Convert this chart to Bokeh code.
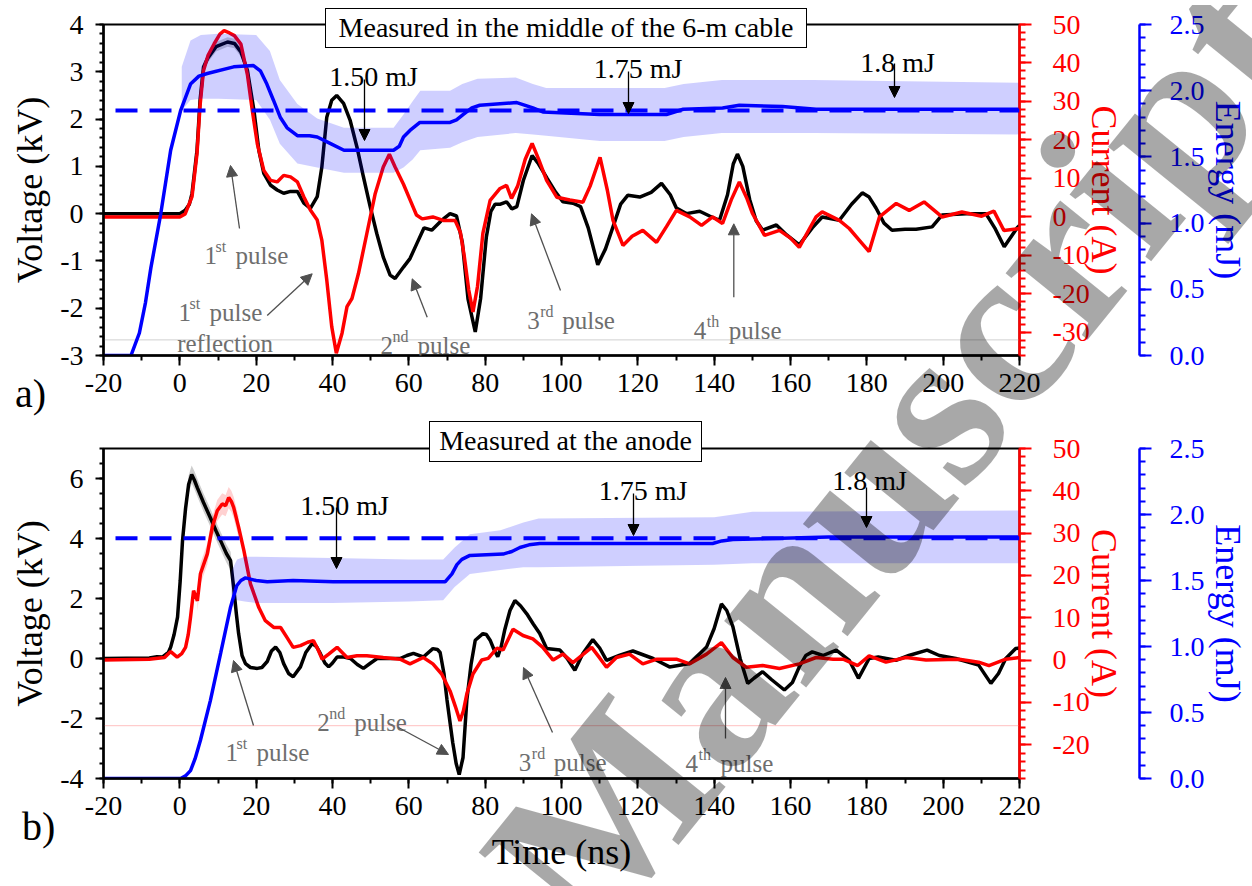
import numpy as np
from bokeh.plotting import figure
from bokeh.layouts import column
from bokeh.models import (Range1d, LinearAxis, SingleIntervalTicker, Label, Arrow,
                          NormalHead, Span, PrintfTickFormatter, Div)
from bokeh.embed import file_html
from bokeh.resources import INLINE

FONT = "Liberation Serif"
GRAY_TXT = "#6e6e6e"
GRAY_ARR = "#505050"

# ---- panel a) measured in the middle of the 6-m cable ----
t_v_a = [-20, -10, 0, 1.4, 2.5, 3.2, 4.5, 5.3, 6.2, 7.4, 9.5, 12.5, 14.3, 16.0, 17.7, 19.4, 20.7, 22.0, 23.8, 25.5,
         27.2, 29.0, 30.8, 32.5, 34.2, 36.0, 37.2, 38.5, 39.8, 41.1, 42.9, 44.6, 46.4, 48.1, 49.9, 51.6, 53.3, 55.1, 56.4, 58.6,
         60.3, 62.0, 64.0, 66.0, 68.5, 70.8, 72.5, 74.0, 75.5, 77.4, 78.8, 80.3, 81.5, 82.6, 84.0, 85.6, 87.0, 88.3, 90.0, 92.3,
         94.0, 96.2, 98.5, 100.4, 103.0, 105.0, 107.0, 109.5, 111.5, 113.4, 115.5, 117.4, 120.5, 123.5, 126.2, 128.5, 130.1, 132.7, 136.2, 138.8,
         141.4, 143.5, 145.0, 146.1, 147.5, 149.3, 151.0, 152.7, 156.3, 159.0, 162.3, 165.7, 168.3, 172.8, 176.0, 178.8, 180.6, 182.4, 184.5, 186.6,
         190.0, 192.9, 197.1, 199.7, 206.0, 211.2, 213.5, 216.0, 219.4, 220.0]
v_a = [0, 0, 0, 0.07, 0.2, 0.43, 1.34, 2.4, 3.1, 3.3, 3.53, 3.63, 3.6, 3.42, 3.03, 2.19, 1.34, 0.85, 0.6, 0.5,
       0.43, 0.47, 0.47, 0.22, 0.11, 0.36, 0.98, 2.04, 2.4, 2.5, 2.33, 1.98, 1.41, 0.78, 0.14, -0.42, -0.92, -1.3, -1.37, -1.13,
       -0.95, -0.65, -0.3, -0.35, -0.15, 0.0, -0.05, -0.6, -1.8, -2.5, -1.8, -0.5, 0.05, 0.2, 0.2, 0.25, 0.1, 0.15, 0.7, 1.23,
       1.05, 0.75, 0.45, 0.25, 0.22, 0.15, -0.3, -1.08, -0.75, -0.3, 0.2, 0.39, 0.35, 0.45, 0.64, 0.4, 0.12, 0.0, 0.05, -0.05,
       -0.14, 0.4, 1.05, 1.26, 1.0, 0.3, -0.15, -0.35, -0.24, -0.45, -0.66, -0.3, -0.07, -0.14, 0.2, 0.44, 0.35, 0.12, -0.2, -0.35,
       -0.33, -0.33, -0.28, -0.03, 0.0, 0.0, -0.3, -0.7, -0.3, -0.25]

t_i_a = [-20, 0, 1.4, 3.2, 4.5, 5.3, 6.2, 7.4, 9.0, 10.5, 11.6, 13.0, 14.3, 16.0, 17.7, 19.0, 20.3, 22.0, 23.8, 25.5,
         27.2, 29.0, 30.8, 32.5, 34.2, 36.0, 37.2, 38.5, 39.8, 41.0, 42.5, 43.8, 45.1, 46.8, 49.0, 51.2, 53.3, 54.9, 56.4, 58.6,
         60.3, 62.0, 63.5, 66.3, 69.0, 72.1, 73.5, 74.5, 75.7, 76.8, 78.0, 79.4, 81.3, 83.9, 85.6, 86.9, 88.5, 90.5, 92.3, 94.0,
         96.1, 98.8, 102.2, 105.6, 107.5, 110.1, 112.0, 113.5, 116.1, 118.5, 121.3, 124.9, 127.5, 130.1, 133.6, 136.7, 139.6, 142.2, 144.5, 146.6,
         148.5, 150.0, 153.2, 157.1, 160.0, 162.3, 165.0, 166.7, 168.3, 172.8, 175.4, 178.0, 180.6, 183.3, 187.7, 191.1, 195.0, 199.7, 204.9, 210.1,
         213.3, 215.9, 220.0]
i_a = [0, 0, 0.8, 5.3, 16.5, 29, 38, 42, 45, 47.5, 48.4, 47.8, 47.1, 44.9, 37, 27.6, 19, 12.1, 9.5, 9.1,
       10.8, 10.4, 9.1, 5.2, 1.8, -0.8, -6, -16.4, -28.5, -35.4, -30.2, -23.3, -21.2, -14.7, -4.3, 6.1, 13, 16.3, 13, 8.5,
       4.5, 0.5, -0.5, 0, -0.9, -0.9, -4, -10, -19, -24.7, -18, -4.3, 4.3, 7.4, 8.2, 4.8, 8, 15, 19.1, 15,
       9.5, 5.1, 4.4, 3.8, 8, 15.5, 7, -0.9, -7.4, -5, -3.5, -6.6, -2.5, 1.7, 0, -2.2, 0, -1.7, 4.5, 9.1,
       5, 1, -4.8, -3.5, -5.5, -7.9, -3, 0, 1.3, -0.9, -3, -6, -9, 0, 3.5, 1.7, 3.9, 0, 1.3, 0.2,
       1.5, -3.5, -3]

t_e_a = [-20, -12.8, -10.6, -9.0, -7.6, -5.0, -2.4, 0.2, 2.8, 5.0, 7.2, 14.1, 19.3, 21.1, 22.8, 24.5, 26.3, 28.1, 30.8, 34.0,
         36.0, 39.5, 43.0, 56.0, 57.5, 58.6, 60.3, 62.9, 70.8, 72.5, 74.2, 76.5, 78.6, 88.3, 92.5, 95.1, 110.0, 127.5, 131.9, 142.2,
         146.6, 157.9, 166.7, 220.0]
e_a = [0, 0, 0.17, 0.4, 0.66, 1.07, 1.55, 1.85, 2.05, 2.11, 2.13, 2.18, 2.19, 2.15, 2.05, 1.93, 1.8, 1.72, 1.66, 1.66,
       1.65, 1.60, 1.55, 1.55, 1.58, 1.65, 1.70, 1.76, 1.76, 1.78, 1.82, 1.87, 1.89, 1.91, 1.87, 1.84, 1.82, 1.82, 1.86, 1.87,
       1.89, 1.88, 1.86, 1.86]

t_eb_a = [0.5, 2.8, 5.5, 10, 20, 23.6, 26.2, 30.8, 36, 43, 56, 58.6, 61, 63, 70.8, 74, 78, 88, 92.5, 96, 110, 127, 132, 142, 166, 220]
e_hi_a = [2.18, 2.38, 2.42, 2.43, 2.42, 2.30, 2.08, 1.90, 1.79, 1.72, 1.72, 1.82, 1.92, 2.0, 2.0, 2.05, 2.09, 2.10, 2.05, 2.02,
          2.02, 2.02, 2.05, 2.08, 2.08, 2.06]
e_lo_a = [1.85, 1.93, 1.94, 1.94, 1.93, 1.78, 1.60, 1.45, 1.42, 1.38, 1.38, 1.42, 1.48, 1.55, 1.57, 1.61, 1.65, 1.68, 1.67, 1.66,
          1.62, 1.62, 1.65, 1.68, 1.68, 1.67]
e_ref_a = 1.85
guide_a = -2.67

# ---- panel b) measured at the anode ----
t_v_b = [-20, -8, -6, -4.5, -3, -2.4, -1.5, -0.6, 0.1, 0.7, 1.5, 2.3, 3.1, 3.8, 4.6, 6.2, 8.0, 9.5, 10.7, 12.2,
         13.3, 14.1, 14.8, 15.4, 16.3, 17.2, 18.5, 20.3, 21.5, 22.9, 24.0, 25.1, 26.2, 27.2, 28.5, 29.7, 31.6, 33.0, 34.7, 35.8,
         36.8, 38.0, 39.0, 40.0, 41.2, 43.0, 44.7, 46.5, 48.1, 50.0, 51.7, 57.7, 59.5, 61.2, 63.8, 66.3, 67.5, 68.2, 69.2, 70.0,
         71.5, 72.4, 73.2, 74.2, 75.2, 76.3, 77.4, 79.4, 80.3, 81.3, 82.3, 83.3, 84.2, 85.1, 86.5, 87.8, 89.3, 90.9, 92.6, 94.3,
         96.1, 99.6, 101.5, 103.5, 105.6, 108.2, 110.0, 111.8, 115.3, 118.7, 124.0, 128.3, 133.6, 138.0, 140.0, 141.9, 143.3, 144.9, 146.8, 148.8,
         150.5, 152.7, 155.0, 158.4, 160.5, 162.3, 164.0, 165.7, 168.5, 172.0, 175.4, 177.8, 180.6, 183.0, 187.6, 191.0, 195.8, 199.0, 203.3, 209.3,
         212.5, 214.5, 216.4, 219.0, 220.0]
v_b = [0, 0.02, 0.06, 0.05, 0.2, 0.38, 0.8, 1.38, 2.6, 3.92, 5.0, 5.8, 6.13, 5.95, 5.69, 5.2, 4.69, 4.25, 3.92, 3.5,
       3.26, 2.37, 1.5, 0.83, 0.1, -0.17, -0.3, -0.33, -0.3, -0.1, 0.25, 0.38, 0.2, -0.17, -0.5, -0.61, -0.28, 0.2, 0.5, 0.4,
       0.17, -0.15, -0.28, -0.15, 0.05, 0.05, 0.0, -0.2, -0.33, -0.15, 0.0, 0.0, 0.1, 0.17, 0.05, 0.33, 0.3, 0.2, -0.5, -1.38,
       -2.8, -3.5, -3.87, -3.3, -1.38, -0.2, 0.61, 0.83, 0.8, 0.61, 0.3, 0.06, 0.4, 0.94, 1.6, 1.93, 1.75, 1.49, 1.15, 0.83,
       0.33, 0.28, 0.0, -0.39, 0.17, 0.63, 0.35, -0.06, 0.11, 0.25, 0.0, -0.28, -0.17, 0.38, 1.0, 1.82, 1.6, 1.06, 0.0, -0.83,
       -0.65, -0.44, -0.7, -1.05, -0.8, -0.28, 0.1, 0.22, 0.1, 0.28, -0.06, -0.66, 0.0, 0.05, -0.06, 0.1, 0.28, 0.1, 0.0, -0.22,
       -0.83, -0.5, 0.0, 0.33, 0.35]

t_i_b = [-20, -8, -4, -2.4, -0.7, 0.5, 1.5, 2.2, 2.8, 3.6, 4.6, 5.4, 7.2, 8.5, 9.8, 11.1, 12.0, 12.8, 13.5, 14.1,
         15.4, 16.8, 18.5, 20.7, 22.4, 24.6, 26.4, 28.1, 29.7, 31.6, 33.5, 35.0, 36.2, 37.3, 39.0, 41.2, 43.8, 46.4, 49.0, 53.3,
         57.7, 60.3, 63.8, 66.3, 68.6, 70.8, 72.2, 73.4, 74.3, 75.2, 76.8, 79.1, 80.8, 83.1, 84.7, 87.3, 89.9, 92.5, 95.1, 97.8,
         100.4, 103.0, 105.5, 107.9, 110.0, 111.8, 114.4, 117.8, 121.3, 125.0, 130.1, 133.6, 138.0, 141.9, 144.9, 148.4, 152.7, 157.1, 162.3, 166.7,
         171.2, 173.8, 177.6, 180.6, 185.0, 190.3, 195.5, 204.2, 209.3, 212.0, 216.4, 220.0]
i_b = [0, 0.2, 0.6, 2.0, 0.7, 1.5, 3.0, 6.0, 10.1, 16.4, 14.0, 20.4, 25.1, 31.4, 35.3, 36.9, 36.5, 38.4, 37.5, 36.1,
       31.4, 25.8, 18.0, 12.4, 9.3, 7.7, 7.7, 5.3, 3.0, 3.4, 4.2, 4.6, 2.5, 0.2, 1.4, 3.0, 0.6, 1.0, 1.0, 0.6,
       0.2, -0.9, 0.6, -0.9, -3.3, -7.3, -11.0, -14.4, -12.0, -8.0, -3.3, 0.0, 0.4, 2.8, 2.4, 7.3, 5.8, 5.0, 3.0, 0.0,
       1.4, -0.6, 1.2, 3.0, 0.5, -1.7, 0.6, 1.4, -0.9, 0.2, 0.2, -0.9, 1.4, 4.1, 0.6, -1.7, -1.3, -2.0, -0.9, 0.6,
       0.2, 0.2, -1.3, 1.0, -0.5, 0.6, 0.0, 0.2, -0.5, -1.3, 0.2, 0.6]

t_e_b = [-20, 0.2, 1.5, 2.8, 4.0, 5.4, 8.0, 10.7, 13.3, 14.9, 16.0, 17.2, 20.0, 22.9, 29.7, 40.2, 60.0, 69.5, 71.3, 72.6,
         73.9, 76.0, 84.7, 87.0, 89.1, 91.5, 94.3, 118.7, 139.6, 142.0, 144.9, 157.9, 170.0, 220.0]
e_b = [0, 0, 0.02, 0.06, 0.15, 0.29, 0.59, 0.95, 1.30, 1.46, 1.50, 1.52, 1.50, 1.49, 1.50, 1.49, 1.49, 1.49, 1.55, 1.62,
       1.66, 1.69, 1.70, 1.72, 1.75, 1.77, 1.78, 1.78, 1.78, 1.80, 1.81, 1.82, 1.83, 1.83]

t_eb_b = [13.5, 15, 17, 20, 40, 60, 69, 72, 76, 84, 90, 94, 140, 150, 220]
e_hi_b = [1.57, 1.66, 1.68, 1.68, 1.67, 1.66, 1.66, 1.75, 1.85, 1.88, 1.94, 1.97, 1.98, 2.02, 2.03]
e_lo_b = [1.38, 1.35, 1.34, 1.33, 1.33, 1.34, 1.35, 1.45, 1.55, 1.58, 1.60, 1.60, 1.62, 1.63, 1.63]
e_ref_b = 1.82
guide_b = -2.24

W = 1252
L_B, R_B = 103, 233


def style_axis(ax, color, interval, minor, fmt, tick_out, standoff):
    ax.ticker = SingleIntervalTicker(interval=interval, num_minor_ticks=minor)
    ax.formatter = PrintfTickFormatter(format=fmt)
    ax.axis_line_color = color
    ax.axis_line_width = 2.5
    ax.major_tick_line_color = color
    ax.minor_tick_line_color = color
    ax.major_tick_line_width = 2
    ax.minor_tick_line_width = 2
    ax.major_tick_out = tick_out
    ax.minor_tick_out = tick_out // 2
    ax.major_tick_in = 0
    ax.minor_tick_in = 0
    ax.major_label_text_font = FONT
    ax.major_label_text_font_size = "28px"
    ax.major_label_text_color = color
    ax.major_label_standoff = standoff
    ax.axis_label_text_font = FONT
    ax.axis_label_text_font_size = "36px"
    ax.axis_label_text_font_style = "normal"
    ax.axis_label_text_color = color


def make_panel(height, top_b, bot_b, vmin, vmax, vstep, vminor, imin):
    p = figure(width=W, height=height, x_range=Range1d(-20, 220), y_range=Range1d(vmin, vmax),
               output_backend="svg", toolbar_location=None,
               min_border_left=L_B, min_border_right=R_B, min_border_top=top_b, min_border_bottom=bot_b)
    p.extra_y_ranges = {"cur": Range1d(imin, 50), "en": Range1d(0, 2.5)}
    p.grid.visible = False
    p.outline_line_color = "black"
    p.outline_line_width = 2
    p.background_fill_color = "white"
    p.border_fill_color = "white"
    style_axis(p.xaxis[0], "black", 20, 2, "%d", 10, 8)
    style_axis(p.yaxis[0], "black", vstep, vminor, "%d", 8, 12)
    p.yaxis[0].axis_label = "Voltage (kV)"
    p.yaxis[0].axis_label_standoff = 7

    ax_i = LinearAxis(y_range_name="cur", axis_label="Current (A)")
    style_axis(ax_i, "red", 10, 5, "%d", 12, 21)
    ax_i.axis_label_standoff = -9
    p.add_layout(ax_i, "right")

    # empty axis used only as a gap between the current and energy axes
    gap = LinearAxis(y_range_name="en", axis_line_color=None, major_tick_line_color=None,
                     minor_tick_line_color=None, major_tick_out=0, minor_tick_out=0,
                     major_label_text_font_size="1px", major_label_text_color="white",
                     major_label_standoff=9)
    p.add_layout(gap, "right")

    ax_e = LinearAxis(y_range_name="en", axis_label="Energy (mJ)")
    style_axis(ax_e, "blue", 0.5, 5, "%.1f", 12, 18)
    ax_e.axis_label_standoff = 0
    p.add_layout(ax_e, "right")
    return p


def page_to_data(frame, px, py):
    # frame = (left, right, top, bottom, vmin, vmax) in page pixels
    l, r, t, b, vmin, vmax = frame
    return (-20 + (px - l) * 240 / (r - l), vmax - (py - t) * (vmax - vmin) / (b - t))


def add_text(p, frame, px, py, text, size="28px", color="black", align="left"):
    x, y = page_to_data(frame, px, py)
    p.add_layout(Label(x=x, y=y, text=text, text_font=FONT, text_font_size=size, text_color=color,
                       text_align=align, text_baseline="alphabetic"))


def add_arrow(p, frame, p0, p1, color):
    x0, y0 = page_to_data(frame, *p0)
    x1, y1 = page_to_data(frame, *p1)
    p.add_layout(Arrow(end=NormalHead(size=11, fill_color=color, line_color=color, line_width=1),
                       x_start=x0, y_start=y0, x_end=x1, y_end=y1, line_color=color, line_width=1.3))


SUP = {"1": ("st", 11, 31), "2": ("nd", 12, 37), "3": ("rd", 13, 35), "4": ("th", 13, 35)}


def add_pulse(p, frame, n, px, py):
    sup, dx1, dx2 = SUP[n]
    add_text(p, frame, px, py, n, size="25px", color=GRAY_TXT)
    add_text(p, frame, px + dx1, py - 9, sup, size="16px", color=GRAY_TXT)
    add_text(p, frame, px + dx2, py, "pulse", size="25px", color=GRAY_TXT)


def draw_series(p, tv, vv, ti, ii, te, ee, teb, ehi, elo, eref, guide, vband, iband):
    p.add_layout(Span(location=guide, dimension="width", line_color="#d0d0d0" if iband is None else "#ffc0c0",
                      line_width=1, level="underlay"))
    tv = np.array(tv); vv = np.array(vv); ti = np.array(ti); ii = np.array(ii)
    t0, t1, hw = vband
    m = (tv >= t0) & (tv <= t1)
    p.varea(tv[m], vv[m] - hw, vv[m] + hw, fill_color="#909090", fill_alpha=0.45)
    if iband is not None:
        t0, t1, hw = iband
        m = (ti >= t0) & (ti <= t1)
        p.varea(ti[m], ii[m] - hw, ii[m] + hw, fill_color="#ff0000", fill_alpha=0.18, y_range_name="cur")
    p.line(tv, vv, line_color="black", line_width=3.5)
    p.line(ti, ii, line_color="red", line_width=3.5, y_range_name="cur")
    p.varea(teb, elo, ehi, fill_color="#0000ff", fill_alpha=0.19, y_range_name="en")
    p.add_layout(Span(location=eref, dimension="width", y_range_name="en", line_color="blue", line_width=4,
                      line_dash="22 12", line_dash_offset=22))
    p.line(te, ee, line_color="blue", line_width=3.5, y_range_name="en")


# ---- top panel ----
pa = make_panel(408, 24, 53, -3, 4, 1, 5, -36)
fa = (103, 1019, 24, 355, -3, 4)
draw_series(pa, t_v_a, v_a, t_i_a, i_a, t_e_a, e_a, t_eb_a, e_hi_a, e_lo_a, e_ref_a, guide_a,
            (5, 21, 0.1), None)
add_text(pa, fa, 373, 76, "1.50 mJ", align="center")
add_arrow(pa, fa, (364, 79), (364, 140), "black")
add_text(pa, fa, 637.5, 68, "1.75 mJ", align="center")
add_arrow(pa, fa, (628, 71), (628, 113), "black")
add_text(pa, fa, 897, 62, "1.8 mJ", align="center")
add_arrow(pa, fa, (894, 63), (894, 97), "black")
add_pulse(pa, fa, "1", 204, 255)
add_arrow(pa, fa, (239, 228), (230, 165), GRAY_ARR)
add_pulse(pa, fa, "1", 178, 312)
add_text(pa, fa, 176.7, 343, "reflection", size="25px", color=GRAY_TXT)
add_arrow(pa, fa, (266.7, 315), (311.7, 273.3), GRAY_ARR)
add_pulse(pa, fa, "2", 380, 345)
add_arrow(pa, fa, (426.7, 316.7), (411.7, 278.3), GRAY_ARR)
add_pulse(pa, fa, "3", 526.7, 320)
add_arrow(pa, fa, (560, 290), (531, 213.3), GRAY_ARR)
add_pulse(pa, fa, "4", 693.3, 330)
add_arrow(pa, fa, (733.3, 296.7), (733.3, 223.3), GRAY_ARR)

# ---- bottom panel ----
pb = make_panel(478, 40, 108, -4, 7, 2, 4, -28)
pb.xaxis[0].axis_label = "Time (ns)"
pb.xaxis[0].axis_label_standoff = 14
fb = (103, 1019, 448, 778, -4, 7)
draw_series(pb, t_v_b, v_b, t_i_b, i_b, t_e_b, e_b, t_eb_b, e_hi_b, e_lo_b, e_ref_b, guide_b,
            (0.5, 15, 0.3), (4, 16, 2.5))
add_text(pb, fb, 344, 505, "1.50 mJ", align="center")
add_arrow(pb, fb, (336, 507), (336, 568), "black")
add_text(pb, fb, 642.5, 490, "1.75 mJ", align="center")
add_arrow(pb, fb, (633, 493), (633, 535), "black")
add_text(pb, fb, 869, 480, "1.8 mJ", align="center")
add_arrow(pb, fb, (866, 487), (866, 527), "black")
add_pulse(pb, fb, "1", 225, 751.7)
add_arrow(pb, fb, (253, 725), (233, 660), GRAY_ARR)
add_pulse(pb, fb, "2", 316.7, 721.7)
add_arrow(pb, fb, (398, 727), (448, 754), GRAY_ARR)
add_pulse(pb, fb, "3", 518.3, 761.7)
add_arrow(pb, fb, (552, 732), (523, 667), GRAY_ARR)
add_pulse(pb, fb, "4", 685, 763.3)
add_arrow(pb, fb, (725, 738), (725, 677), GRAY_ARR)

# texts that sit across the frame edges (panel titles, panel letters, watermark)
CSS_FONT = "font-family:'Liberation Serif',serif;white-space:nowrap;"


def box(left, top, w, h, text):
    return (f'<div style="position:absolute;left:{left}px;top:{top}px;width:{w}px;height:{h}px;'
            f'box-sizing:border-box;border:1.5px solid black;background:white;{CSS_FONT}'
            f'font-size:28px;line-height:{h - 3}px;text-align:center;color:black;">{text}</div>')


def tag(left, top, text):
    return (f'<div style="position:absolute;left:{left}px;top:{top}px;{CSS_FONT}'
            f'font-size:40px;line-height:40px;color:black;">{text}</div>')


wm = (f'<div style="position:absolute;left:589px;top:753px;{CSS_FONT}font-size:230px;line-height:230px;'
      f'font-weight:bold;color:rgba(0,0,0,0.34);transform-origin:0px 193px;transform:rotate(-51deg);">'
      f'Manuscript</div>')

html = (box(320, 3, 482, 40, "Measured in the middle of the 6-m cable")
        + box(424, 416, 273, 41, "Measured at the anode")
        + tag(10, 369, "a)") + tag(17, 802, "b)") + wm)

overlay = Div(text=html, width=1252, height=886,
              styles={"position": "absolute", "left": "0px", "top": "0px", "z-index": "10",
                      "pointer-events": "none", "overflow": "hidden"})

layout = column(overlay, pa, pb, spacing=0)
open("out.html", "w").write(file_html(layout, INLINE))
